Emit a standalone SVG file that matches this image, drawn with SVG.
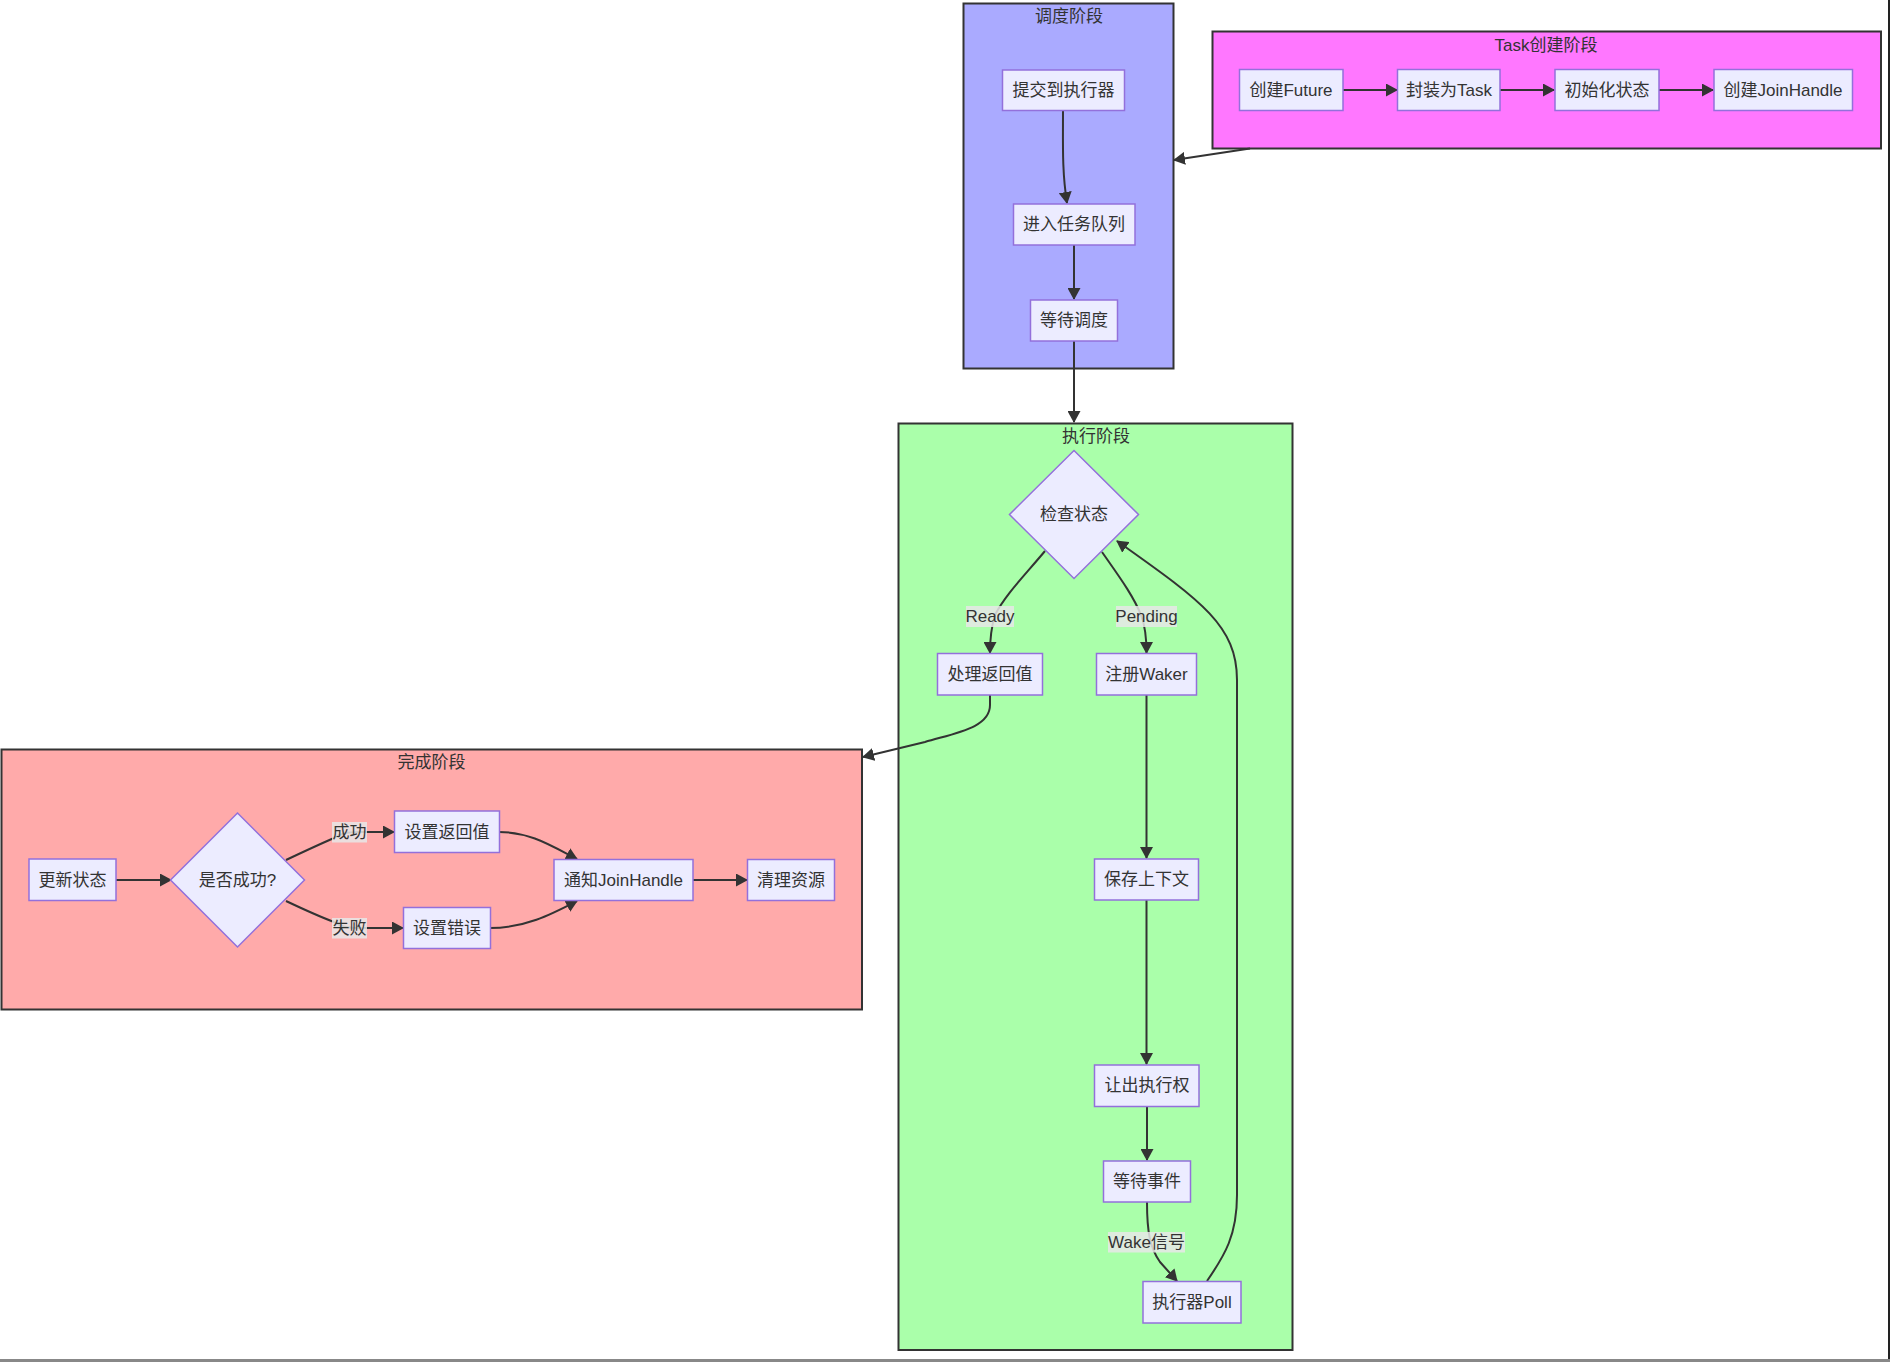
<svg xmlns="http://www.w3.org/2000/svg" width="1890" height="1362" viewBox="0 0 1890 1362">
<style>
text{font-family:"Liberation Sans","Noto Sans CJK SC",sans-serif;font-size:17px;fill:#333;text-anchor:middle;dominant-baseline:central}
.cl{stroke:#333;stroke-width:2}
.nd{fill:#ECECFF;stroke:#9370DB;stroke-width:1.5}
.e{fill:none;stroke:#333;stroke-width:2;marker-end:url(#ah)}
.lb{fill:#e8e8e8;fill-opacity:0.85}
</style>
<defs>
<marker id="ah" markerUnits="userSpaceOnUse" markerWidth="13" markerHeight="13" refX="11" refY="6.5" orient="auto">
<path d="M0,0 L12,6.5 L0,13 z" fill="#333"/>
</marker>
</defs>
<rect width="1890" height="1362" fill="#fff"/>
<rect x="1888" y="0" width="2" height="1359" fill="#222"/>
<rect x="0" y="1359" width="1890" height="3" fill="#888"/>

<g id="cluster-schedule">
<rect class="cl" x="963.5" y="3.5" width="210" height="365" fill="#aaaaff"/>
<text x="1069" y="16">调度阶段</text>
</g>
<g id="cluster-task">
<rect class="cl" x="1212.5" y="31.5" width="668.5" height="117" fill="#ff77ff"/>
<text x="1546" y="45">Task创建阶段</text>
</g>
<g id="cluster-exec">
<rect class="cl" x="898.5" y="423.5" width="394" height="926.5" fill="#aaffaa"/>
<text x="1096" y="436">执行阶段</text>
</g>
<g id="cluster-done">
<rect class="cl" x="1.5" y="749.5" width="860.5" height="260" fill="#ffaaaa"/>
<text x="431.5" y="762">完成阶段</text>
</g>

<g id="connectors">
<path class="e" d="M1343,90 L1397,90"/>
<path class="e" d="M1500,90 L1554,90"/>
<path class="e" d="M1659,90 L1713,90"/>
<path class="e" d="M1250,148.5 L1174,160"/>
<path class="e" d="M1063,110 C1063,145 1062,172 1067,203"/>
<path class="e" d="M1074,245 L1074,299"/>
<path class="e" d="M1074,341 L1074,422"/>
<path class="e" d="M1045,551 C1025,575 1005,595 995,615 C991,628 990,640 990,653"/>
<path class="e" d="M1102,552 C1118,575 1133,595 1141,615 C1146,628 1146.5,640 1146.5,653"/>
<path class="e" d="M1146.5,695 L1146.5,858"/>
<path class="e" d="M1146.5,900 L1146.5,1064"/>
<path class="e" d="M1147,1106 L1147,1160"/>
<path class="e" d="M1147,1202 C1147,1232 1150,1248 1160,1262 L1177,1281"/>
<path class="e" d="M1207,1281 C1225,1255 1237,1235 1237,1195 L1237,680 C1237,625 1200,600 1117,541"/>
<path class="e" d="M990,695 L990,705 C990,728 955,733 925,742 L863,757"/>
<path class="e" d="M116,880 L171,880"/>
<path class="e" d="M286,860 C305,851 318,845 334,838 C340,834 346,832 360,832 L394,832"/>
<path class="e" d="M286,901 C305,910 318,916 334,922 C340,926 346,928 360,928 L403,928"/>
<path class="e" d="M499,832 C530,832 550,845 577,859"/>
<path class="e" d="M490,928 C525,928 550,915 577,901"/>
<path class="e" d="M693,880 L747,880"/>
</g>

<g id="edge-labels">
<rect class="lb" x="966" y="606" width="48" height="21"/><text x="990" y="616.5">Ready</text>
<rect class="lb" x="1116" y="606" width="61" height="21"/><text x="1146.5" y="616.5">Pending</text>
<rect class="lb" x="1108" y="1232" width="77" height="20.5"/><text x="1146.5" y="1242">Wake信号</text>
<rect class="lb" x="332" y="822" width="35" height="20.5"/><text x="349.5" y="832">成功</text>
<rect class="lb" x="332" y="918" width="35" height="20.5"/><text x="349.5" y="928">失败</text>
</g>

<g id="n-submit"><rect class="nd" x="1002.5" y="70" width="122" height="40.5"/><text x="1063.5" y="90">提交到执行器</text></g>
<g id="n-queue"><rect class="nd" x="1013.5" y="204" width="121.5" height="41"/><text x="1074" y="224">进入任务队列</text></g>
<g id="n-wait"><rect class="nd" x="1030.5" y="300" width="87" height="41"/><text x="1074" y="320">等待调度</text></g>

<g id="n-future"><rect class="nd" x="1239.5" y="69.5" width="103.5" height="41"/><text x="1291" y="90">创建Future</text></g>
<g id="n-wrap"><rect class="nd" x="1397.5" y="69.5" width="102.5" height="41"/><text x="1449" y="90">封装为Task</text></g>
<g id="n-init"><rect class="nd" x="1555" y="69.5" width="104" height="41"/><text x="1607" y="90">初始化状态</text></g>
<g id="n-jh"><rect class="nd" x="1714" y="69.5" width="138.5" height="41"/><text x="1783" y="90">创建JoinHandle</text></g>

<g id="n-check"><path class="nd" d="M1074,450.5 L1138.5,514.5 L1074,578.5 L1009.5,514.5 Z"/><text x="1074" y="514.5">检查状态</text></g>
<g id="n-ret"><rect class="nd" x="937.5" y="653.5" width="105" height="41.5"/><text x="990" y="674">处理返回值</text></g>
<g id="n-waker"><rect class="nd" x="1096.5" y="653.5" width="100" height="41.5"/><text x="1146.5" y="674">注册Waker</text></g>
<g id="n-save"><rect class="nd" x="1094.5" y="859" width="104" height="41"/><text x="1146.5" y="879.5">保存上下文</text></g>
<g id="n-yield"><rect class="nd" x="1094.5" y="1065" width="104.5" height="41.5"/><text x="1147" y="1085.5">让出执行权</text></g>
<g id="n-event"><rect class="nd" x="1103.5" y="1161" width="87" height="41"/><text x="1147" y="1181.5">等待事件</text></g>
<g id="n-poll"><rect class="nd" x="1143" y="1281.5" width="98" height="41.5"/><text x="1192" y="1302">执行器Poll</text></g>

<g id="n-update"><rect class="nd" x="29" y="859" width="87" height="41.5"/><text x="72.5" y="880">更新状态</text></g>
<g id="n-ok"><path class="nd" d="M237.5,813 L304.5,880 L237.5,947 L170.5,880 Z"/><text x="237.5" y="880">是否成功?</text></g>
<g id="n-setret"><rect class="nd" x="394.5" y="811" width="105" height="41.5"/><text x="447" y="832">设置返回值</text></g>
<g id="n-seterr"><rect class="nd" x="403.5" y="907.5" width="87" height="41"/><text x="447" y="928">设置错误</text></g>
<g id="n-notify"><rect class="nd" x="554" y="859.5" width="139" height="41"/><text x="623.5" y="880">通知JoinHandle</text></g>
<g id="n-clean"><rect class="nd" x="747.5" y="859.5" width="87" height="41"/><text x="791" y="880">清理资源</text></g>
</svg>
